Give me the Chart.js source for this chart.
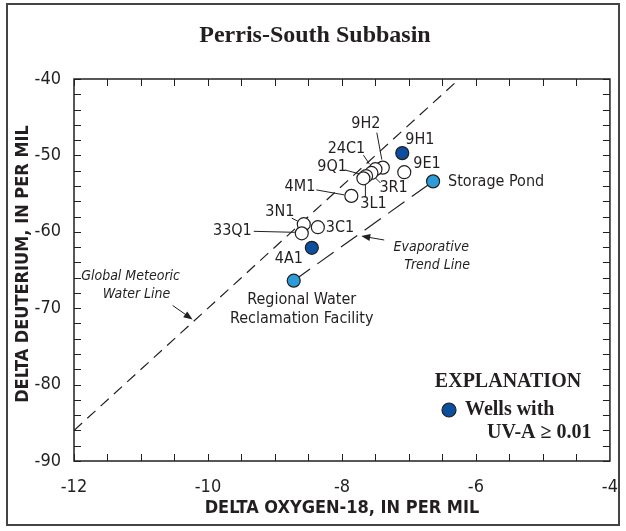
<!DOCTYPE html>
<html>
<head>
<meta charset="utf-8">
<script src="https://cdn.jsdelivr.net/npm/chart.js@4.4.1/dist/chart.umd.min.js"></script>
<style>
  body { margin: 0; background: #fff; }
</style>
</head>
<body>
<canvas id="isotopeChart" width="626" height="531"></canvas>
<script>
// Wells, no UV-A detection (open circles)
const wellNames = ["9H2", "24C1", "3R1", "9Q1", "3L1", "9E1", "4M1", "3N1", "3C1", "33Q1"];
const wellO18 = [-7.39, -7.50, -7.56, -7.64, -7.68, -7.07, -7.86, -8.57, -8.36, -8.60];
const wellDeut = [-51.6, -51.8, -52.3, -52.7, -53.0, -52.2, -55.3, -59.0, -59.4, -60.2];

// Wells with UV-A >= 0.01
const uvNames = ["9H1", "4A1"];
const uvO18 = [-7.10, -8.45];
const uvDeut = [-49.7, -62.1];

// Surface water sources (ends of the evaporative trend line)
const sourceNames = ["Regional Water Reclamation Facility", "Storage Pond"];
const sourceO18 = [-8.72, -6.64];
const sourceDeut = [-66.4, -53.4];

// Global meteoric water line
const gmwlO18 = [-12, -6.25];
const gmwlDeut = [-86, -40];

const xTicks = [-12, -10, -8, -6, -4];
const yTicks = [-90, -80, -70, -60, -50, -40];

const INK = "#231f20";
const DARK_BLUE = "#0c4f9f";
const LIGHT_BLUE = "#2b9cd8";
const NARROW = "'Liberation Sans Narrow', 'DejaVu Sans Condensed', 'Arial Narrow', sans-serif";
const SERIF = "'Liberation Serif', 'DejaVu Serif', serif";

// where each point label sits, relative to its point (pixels)
const labelPos = {
    "9H1": { dx: 3, dy: -13, align: "left" },
    "9E1": { dx: 9, dy: -8, align: "left" },
    "Storage Pond": { dx: 15, dy: 0, align: "left" },
    "9H2": { dx: -17, dy: -44, leader: [-6, -35, -1, -8] },
    "24C1": { dx: -29, dy: -20, leader: [-12, -14, -6, -5] },
    "9Q1": { dx: -34, dy: -9, leader: [-21, -6, -6, -2] },
    "3R1": { dx: 8, dy: 15, align: "left", leader: [4, 5, 9, 10] },
    "3L1": { dx: 10, dy: 26, leader: [2, 6, 2, 19] },
    "4M1": { dx: -36, dy: -9, align: "right", leader: [-35, -6, -7, -1] },
    "3N1": { dx: -24, dy: -12, leader: [-12, -6, -6, -3] },
    "3C1": { dx: 8, dy: 1, align: "left" },
    "33Q1": { dx: -50, dy: -2, align: "right", leader: [-48, -2, -7, -1] },
    "4A1": { dx: -23, dy: 11 },
    "Regional Water Reclamation Facility": { dx: 8, dy: 19, text: ["Regional Water", "Reclamation Facility"] }
};

function px(chart, x, y) {
    return [chart.scales.x.getPixelForValue(x), chart.scales.y.getPixelForValue(y)];
}

function drawArrow(ctx, x1, y1, x2, y2) {
    const a = Math.atan2(y2 - y1, x2 - x1);
    ctx.beginPath();
    ctx.moveTo(x1, y1);
    ctx.lineTo(x2 - 6 * Math.cos(a), y2 - 6 * Math.sin(a));
    ctx.stroke();
    ctx.beginPath();
    ctx.moveTo(x2, y2);
    ctx.lineTo(x2 - 9 * Math.cos(a) + 3.5 * Math.sin(a), y2 - 9 * Math.sin(a) - 3.5 * Math.cos(a));
    ctx.lineTo(x2 - 9 * Math.cos(a) - 3.5 * Math.sin(a), y2 - 9 * Math.sin(a) + 3.5 * Math.cos(a));
    ctx.closePath();
    ctx.fill();
}

function drawLabels(chart, names, xs, ys) {
    const ctx = chart.ctx;
    names.forEach((name, i) => {
        const p = labelPos[name];
        if (!p) return;
        const [x, y] = px(chart, xs[i], ys[i]);
        if (p.leader) {
            ctx.beginPath();
            ctx.moveTo(x + p.leader[0], y + p.leader[1]);
            ctx.lineTo(x + p.leader[2], y + p.leader[3]);
            ctx.stroke();
        }
        ctx.textAlign = p.align || "center";
        (p.text || [name]).forEach((t, k) => ctx.fillText(t, x + p.dx, y + p.dy + k * 19));
    });
}

const decorations = {
    id: "decorations",
    beforeDraw(chart) {
        const ctx = chart.ctx;
        ctx.save();
        ctx.fillStyle = "#fff";
        ctx.fillRect(0, 0, chart.width, chart.height);
        ctx.restore();
    },
    afterDatasetsDraw(chart) {
        const ctx = chart.ctx;
        ctx.save();
        ctx.fillStyle = INK;
        ctx.strokeStyle = INK;
        ctx.lineWidth = 1;
        ctx.textBaseline = "middle";
        ctx.font = "16px " + NARROW;
        drawLabels(chart, wellNames, wellO18, wellDeut);
        drawLabels(chart, uvNames, uvO18, uvDeut);
        drawLabels(chart, sourceNames, sourceO18, sourceDeut);

        // evaporative trend line note
        const [ax, ay] = px(chart, sourceO18[0], sourceDeut[0]);
        const [bx, by] = px(chart, sourceO18[1], sourceDeut[1]);
        const t = 0.47;
        const tx = ax + (bx - ax) * t, ty = ay + (by - ay) * t;
        drawArrow(ctx, tx + 25, ty + 6, tx + 2, ty + 2);
        ctx.font = "italic 14px " + NARROW;
        ctx.textAlign = "center";
        ctx.fillText("Evaporative", tx + 72, ty + 13);
        ctx.fillText("Trend Line", tx + 78, ty + 31);

        // meteoric water line note
        const [gx, gy] = px(chart, -10.2, -71.6);
        drawArrow(ctx, gx - 22, gy - 15, gx - 2, gy - 1);
        ctx.fillText("Global Meteoric", gx - 64, gy - 44);
        ctx.fillText("Water Line", gx - 58, gy - 26);
        ctx.restore();
    },
    afterDraw(chart) {
        const ctx = chart.ctx;
        const { left, right, top, bottom } = chart.chartArea;
        const xs = chart.scales.x, ys = chart.scales.y;
        ctx.save();
        ctx.strokeStyle = INK;
        ctx.fillStyle = INK;

        // outer frame
        ctx.lineWidth = 2;
        ctx.strokeStyle = "#444";
        ctx.strokeRect(7, 4, 612, 521);

        // plot frame and inward ticks
        ctx.strokeStyle = INK;
        ctx.lineWidth = 1.5;
        ctx.strokeRect(left, top, right - left, bottom - top);
        ctx.lineWidth = 1;
        ctx.beginPath();
        for (let v = -12; v <= -4.0001; v += 0.5) {
            const x = Math.round(xs.getPixelForValue(v)) + 0.5;
            ctx.moveTo(x, bottom); ctx.lineTo(x, bottom - 7);
            ctx.moveTo(x, top); ctx.lineTo(x, top + 7);
        }
        for (let v = -90; v <= -40; v += 2) {
            const y = Math.round(ys.getPixelForValue(v)) + 0.5;
            ctx.moveTo(left, y); ctx.lineTo(left + 7, y);
            ctx.moveTo(right, y); ctx.lineTo(right - 7, y);
        }
        ctx.stroke();

        // titles
        ctx.textAlign = "center";
        ctx.textBaseline = "middle";
        ctx.font = "bold 24px " + SERIF;
        ctx.fillText("Perris-South Subbasin", 315, 36);
        ctx.font = "bold 18px " + NARROW;
        ctx.fillText("DELTA OXYGEN-18, IN PER MIL", (left + right) / 2, 508);
        ctx.save();
        ctx.translate(23, 264);
        ctx.rotate(-Math.PI / 2);
        ctx.fillText("DELTA DEUTERIUM, IN PER MIL", 0, 0);
        ctx.restore();

        // explanation box
        ctx.font = "bold 20px " + SERIF;
        ctx.fillText("EXPLANATION", 508, 382);
        ctx.textAlign = "left";
        ctx.fillText("Wells with", 465, 410);
        ctx.fillText("UV-A \u2265 0.01", 487, 433);
        ctx.beginPath();
        ctx.arc(449, 410, 7, 0, Math.PI * 2);
        ctx.fillStyle = DARK_BLUE;
        ctx.fill();
        ctx.lineWidth = 1.2;
        ctx.stroke();
        ctx.restore();
    }
};

const pointStyle = (bg) => ({
    showLine: false,
    pointRadius: 6.5,
    pointBackgroundColor: bg,
    pointBorderColor: INK,
    pointBorderWidth: 1.2,
    order: 1
});

new Chart(document.getElementById("isotopeChart"), {
    type: "scatter",
    data: {
        datasets: [
            Object.assign({ data: wellO18.map((v, i) => ({ x: v, y: wellDeut[i] })) }, pointStyle("#fff")),
            Object.assign({ data: uvO18.map((v, i) => ({ x: v, y: uvDeut[i] })) }, pointStyle(DARK_BLUE)),
            Object.assign({ data: sourceO18.map((v, i) => ({ x: v, y: sourceDeut[i] })) }, pointStyle(LIGHT_BLUE)),
            {
                data: sourceO18.map((v, i) => ({ x: v, y: sourceDeut[i] })),
                showLine: true, pointRadius: 0, borderColor: INK, borderWidth: 1.2,
                borderDash: [20, 9], order: 5
            },
            {
                data: gmwlO18.map((v, i) => ({ x: v, y: gmwlDeut[i] })),
                showLine: true, pointRadius: 0, borderColor: INK, borderWidth: 1.2,
                borderDash: [11, 7], order: 5
            }
        ]
    },
    options: {
        responsive: false,
        animation: false,
        devicePixelRatio: 1,
        layout: { padding: { left: 10, right: 13, top: 79, bottom: 10 } },
        plugins: { legend: { display: false }, tooltip: { enabled: false } },
        scales: {
            x: {
                type: "linear", min: -12, max: -4,
                afterBuildTicks: (s) => { s.ticks = xTicks.map(v => ({ value: v })); },
                afterFit: (s) => { s.height = 60; },
                grid: { display: false },
                border: { display: false },
                ticks: { color: INK, padding: 8, font: { family: NARROW, size: 18 } }
            },
            y: {
                type: "linear", min: -90, max: -40,
                afterBuildTicks: (s) => { s.ticks = yTicks.map(v => ({ value: v })); },
                afterFit: (s) => { s.width = 64; },
                grid: { display: false },
                border: { display: false },
                ticks: { color: INK, padding: 5, font: { family: NARROW, size: 18 } }
            }
        }
    },
    plugins: [decorations]
});
</script>
</body>
</html>
